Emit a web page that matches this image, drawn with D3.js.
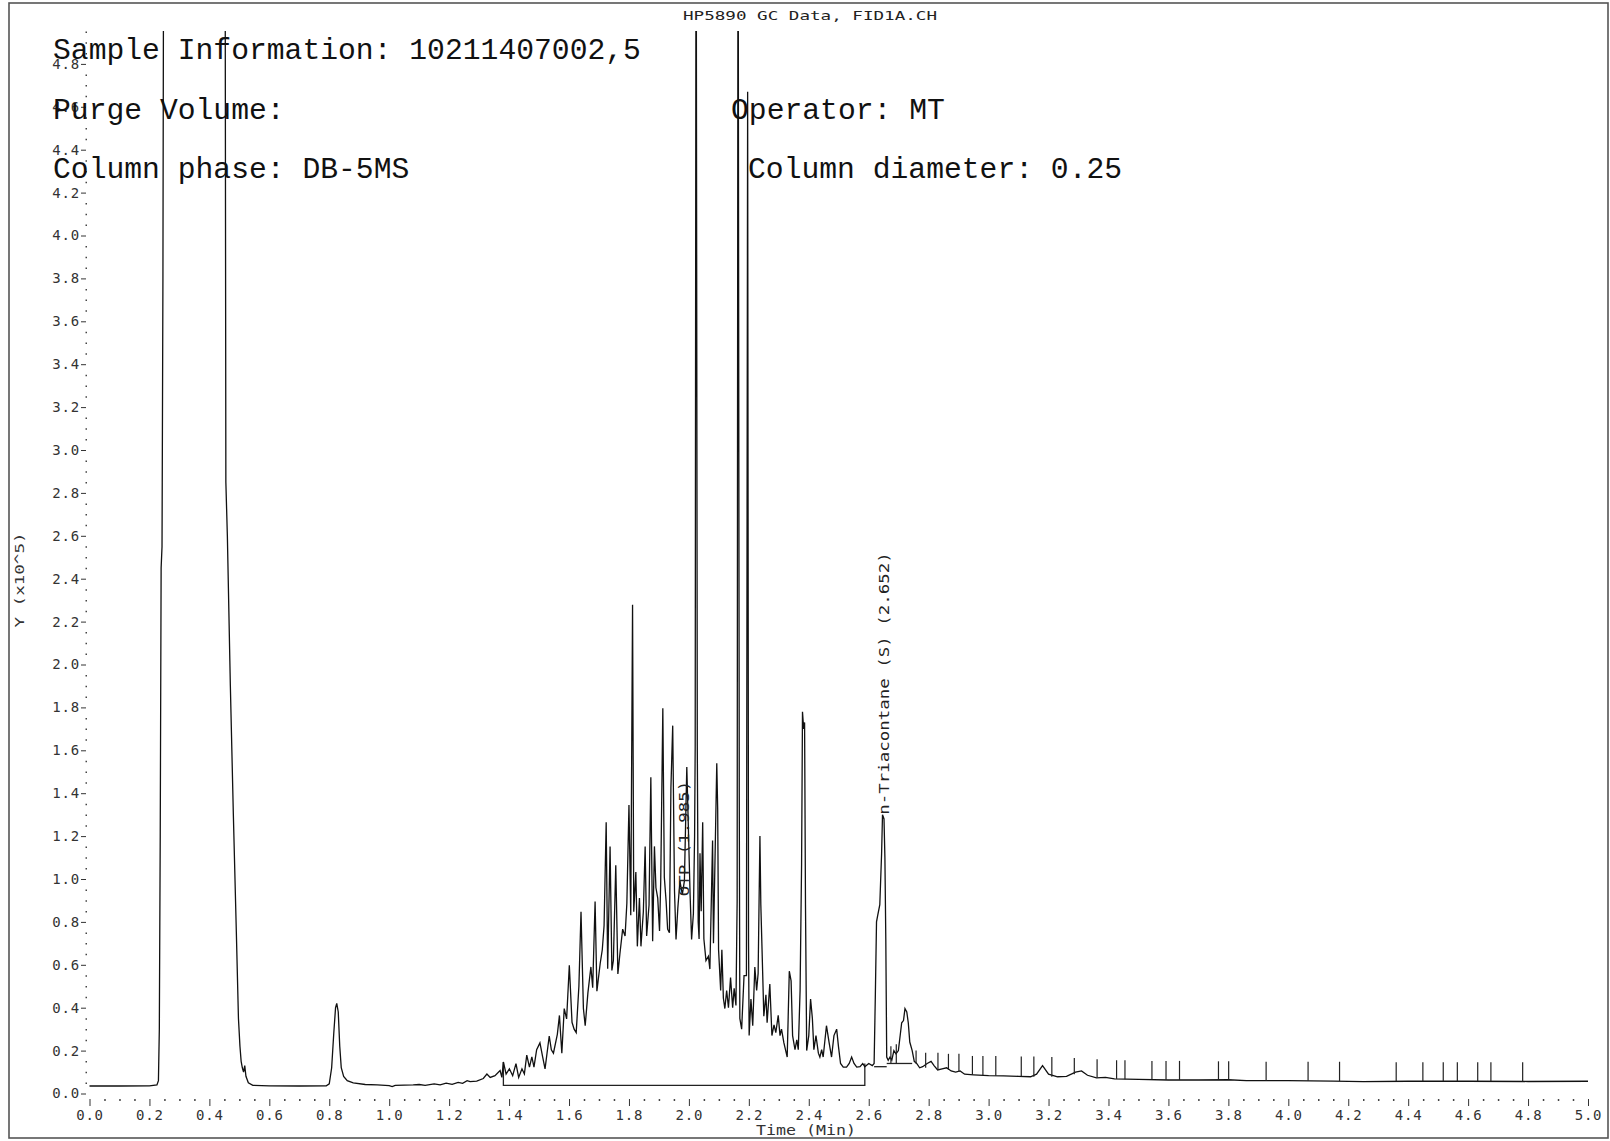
<!DOCTYPE html>
<html>
<head>
<meta charset="utf-8">
<script src="https://cdn.jsdelivr.net/npm/d3@7"></script>
<style>
  body { margin: 0; background: #fff; }
  svg { display: block; }
</style>
</head>
<body>
<svg id="chart"></svg>
<script>
// retention time (min) and detector response (x10^5)
const rtMin = [
  0.000, 0.100, 0.200, 0.225, 0.230, 0.233, 0.236, 0.239, 0.242, 0.245, 0.248, 0.300, 0.400, 0.452,
  0.455, 0.460, 0.470, 0.480, 0.490, 0.497, 0.502, 0.506, 0.510, 0.514, 0.518, 0.522, 0.530, 0.545,
  0.600, 0.700, 0.790, 0.800, 0.808, 0.815, 0.821, 0.825, 0.830, 0.835, 0.840, 0.848, 0.860, 0.880,
  0.920, 0.960, 1.000, 1.010, 1.020, 1.080, 1.100, 1.120, 1.150, 1.170, 1.190, 1.210, 1.230, 1.245,
  1.260, 1.270, 1.292, 1.314, 1.326, 1.337, 1.353, 1.370, 1.376, 1.381, 1.390, 1.401, 1.412, 1.423,
  1.432, 1.443, 1.451, 1.459, 1.468, 1.476, 1.483, 1.492, 1.503, 1.512, 1.520, 1.534, 1.541, 1.548,
  1.561, 1.568, 1.576, 1.584, 1.592, 1.601, 1.610, 1.617, 1.624, 1.633, 1.640, 1.648, 1.654, 1.663,
  1.673, 1.679, 1.687, 1.693, 1.704, 1.711, 1.717, 1.724, 1.729, 1.737, 1.743, 1.748, 1.756, 1.763,
  1.770, 1.779, 1.787, 1.793, 1.800, 1.806, 1.812, 1.816, 1.823, 1.828, 1.835, 1.840, 1.848, 1.854,
  1.859, 1.867, 1.873, 1.879, 1.885, 1.890, 1.896, 1.902, 1.906, 1.913, 1.918, 1.924, 1.929, 1.935,
  1.940, 1.946, 1.952, 1.957, 1.963, 1.970, 1.978, 1.985, 1.993, 2.004, 2.009, 2.015, 2.019, 2.021,
  2.024, 2.028, 2.031, 2.034, 2.037, 2.041, 2.046, 2.050, 2.057, 2.065, 2.070, 2.079, 2.082, 2.093,
  2.096, 2.099, 2.106, 2.110, 2.115, 2.120, 2.126, 2.132, 2.139, 2.146, 2.151, 2.157, 2.161, 2.164,
  2.168, 2.170, 2.176, 2.184, 2.192, 2.196, 2.199, 2.201, 2.207, 2.213, 2.220, 2.226, 2.231, 2.237,
  2.240, 2.246, 2.250, 2.257, 2.261, 2.270, 2.277, 2.284, 2.290, 2.298, 2.304, 2.309, 2.317, 2.328,
  2.335, 2.341, 2.346, 2.354, 2.360, 2.365, 2.371, 2.376, 2.379, 2.383, 2.386, 2.389, 2.393, 2.400,
  2.406, 2.412, 2.417, 2.424, 2.432, 2.437, 2.443, 2.448, 2.459, 2.468, 2.476, 2.484, 2.493, 2.499,
  2.506, 2.515, 2.526, 2.535, 2.543, 2.551, 2.560, 2.571, 2.580, 2.587, 2.600, 2.612, 2.618, 2.622,
  2.626, 2.630, 2.637, 2.643, 2.646, 2.651, 2.654, 2.657, 2.660, 2.665, 2.671, 2.677, 2.684, 2.691,
  2.699, 2.710, 2.716, 2.721, 2.727, 2.732, 2.737, 2.745, 2.752, 2.760, 2.770, 2.780, 2.795, 2.808,
  2.818, 2.830, 2.845, 2.860, 2.875, 2.890, 2.905, 2.920, 2.950, 3.000, 3.050, 3.100, 3.140, 3.160,
  3.180, 3.200, 3.230, 3.260, 3.290, 3.310, 3.330, 3.360, 3.390, 3.420, 3.500, 3.600, 3.700, 3.800,
  3.860, 4.000, 4.150, 4.250, 4.400, 4.600, 4.800, 5.000
];
const resp = [
  0.035, 0.035, 0.036, 0.040, 0.060, 0.300, 1.200, 2.450, 2.550, 3.800, 6.000, 6.000, 6.000, 6.000,
  2.850, 2.600, 1.900, 1.300, 0.750, 0.350, 0.220, 0.150, 0.120, 0.100, 0.130, 0.080, 0.050, 0.038,
  0.036, 0.035, 0.036, 0.045, 0.120, 0.280, 0.400, 0.420, 0.380, 0.220, 0.120, 0.080, 0.060, 0.050,
  0.042, 0.040, 0.037, 0.032, 0.038, 0.040, 0.042, 0.038, 0.045, 0.040, 0.048, 0.043, 0.052, 0.047,
  0.060, 0.055, 0.058, 0.070, 0.091, 0.075, 0.083, 0.107, 0.075, 0.147, 0.091, 0.115, 0.083, 0.139,
  0.075, 0.115, 0.091, 0.179, 0.123, 0.171, 0.123, 0.204, 0.236, 0.171, 0.115, 0.268, 0.204, 0.188,
  0.276, 0.364, 0.188, 0.396, 0.348, 0.598, 0.332, 0.300, 0.284, 0.501, 0.847, 0.396, 0.316, 0.469,
  0.590, 0.493, 0.895, 0.477, 0.606, 0.670, 0.783, 1.265, 0.582, 1.152, 0.574, 0.620, 1.064, 0.557,
  0.654, 0.766, 0.734, 0.887, 1.345, 0.831, 2.278, 0.847, 1.032, 0.686, 0.911, 0.686, 0.847, 1.152,
  0.734, 0.879, 1.474, 0.710, 1.152, 0.959, 0.911, 0.758, 0.991, 1.796, 1.008, 0.895, 0.766, 0.750,
  1.426, 1.715, 0.943, 0.718, 0.863, 0.991, 0.927, 0.991, 1.522, 0.927, 0.718, 0.839, 1.200, 1.619,
  6.000, 1.620, 0.800, 0.720, 1.120, 0.850, 1.265, 0.720, 0.620, 0.640, 0.580, 1.180, 0.700, 1.540,
  1.330, 0.670, 0.480, 0.670, 0.445, 0.396, 0.480, 0.400, 0.540, 0.400, 0.490, 0.410, 0.900, 6.000,
  1.400, 0.350, 0.300, 0.550, 0.550, 4.670, 0.700, 0.270, 0.440, 0.316, 0.590, 0.480, 0.560, 1.200,
  0.880, 0.570, 0.360, 0.460, 0.330, 0.510, 0.270, 0.320, 0.284, 0.364, 0.270, 0.300, 0.236, 0.170,
  0.570, 0.525, 0.270, 0.204, 0.250, 0.204, 0.480, 1.070, 1.780, 1.700, 1.730, 0.880, 0.200, 0.270,
  0.440, 0.350, 0.204, 0.270, 0.188, 0.170, 0.204, 0.170, 0.316, 0.236, 0.170, 0.270, 0.300, 0.220,
  0.140, 0.123, 0.123, 0.140, 0.170, 0.140, 0.123, 0.125, 0.140, 0.125, 0.140, 0.130, 0.140, 0.450,
  0.800, 0.830, 0.880, 1.120, 1.300, 1.280, 1.100, 0.720, 0.170, 0.155, 0.170, 0.155, 0.200, 0.185,
  0.200, 0.330, 0.340, 0.396, 0.380, 0.330, 0.240, 0.200, 0.150, 0.140, 0.120, 0.125, 0.140, 0.150,
  0.130, 0.110, 0.115, 0.120, 0.105, 0.100, 0.105, 0.090, 0.087, 0.083, 0.082, 0.080, 0.078, 0.090,
  0.130, 0.090, 0.078, 0.080, 0.100, 0.105, 0.085, 0.073, 0.075, 0.068, 0.066, 0.063, 0.063, 0.064,
  0.060, 0.060, 0.058, 0.055, 0.057, 0.057, 0.056, 0.057
];

// integration baselines drawn by the data system
const baseRt = [1.381, 1.381, 2.587, 2.587];
const baseVal = [0.147, 0.038, 0.038, 0.140];
const dropRt = [[2.618, 2.660], [2.660, 2.745]];
const dropVal = [0.125, 0.140];

// peak markers in the tail
const markerRt = [2.674, 2.692, 2.758, 2.790, 2.831, 2.866, 2.901, 2.946, 2.981, 3.024, 3.109, 3.151,
  3.211, 3.286, 3.362, 3.427, 3.455, 3.545, 3.592, 3.637, 3.767, 3.801, 3.926, 4.066, 4.171, 4.360,
  4.449, 4.517, 4.564, 4.632, 4.676, 4.782];
const markerLo = [0.140, 0.140, 0.140, 0.120, 0.110, 0.110, 0.100, 0.087, 0.085, 0.083, 0.080, 0.078,
  0.078, 0.090, 0.075, 0.068, 0.067, 0.066, 0.064, 0.063, 0.063, 0.064, 0.060, 0.060, 0.058, 0.057,
  0.057, 0.057, 0.057, 0.057, 0.057, 0.056];
const markerHi = [0.220, 0.230, 0.200, 0.190, 0.190, 0.185, 0.185, 0.175, 0.175, 0.175, 0.172, 0.172,
  0.170, 0.165, 0.160, 0.155, 0.155, 0.152, 0.152, 0.152, 0.150, 0.150, 0.148, 0.148, 0.148, 0.146,
  0.146, 0.146, 0.146, 0.146, 0.146, 0.146];

// peak annotations
const peakNames = ["OTP (1.985)", "n-Triacontane (S) (2.652)"];
const peakRt = [1.985, 2.652];
const peakLabelAt = [0.92, 1.30];

const xMajor = d3.range(0, 26).map(i => i * 0.2);
const yMajor = d3.range(0, 25).map(i => i * 0.2);

const headerLines = [
  ["Sample Information: 10211407002,5", ""],
  ["Purge Volume:", "Operator: MT"],
  ["Column phase: DB-5MS", "Column diameter: 0.25"]
];

const width = 1610, height = 1141;
const svg = d3.select("#chart").attr("width", width).attr("height", height);

svg.append("rect").attr("width", width).attr("height", height).attr("fill", "#fff");
svg.append("rect")
  .attr("x", 9).attr("y", 3).attr("width", 1599).attr("height", 1135)
  .attr("fill", "none").attr("stroke", "#555").attr("stroke-width", 1.6);

const x = d3.scaleLinear().domain([0, 5]).range([89.5, 1588]);
const y = d3.scaleLinear().domain([0, 5]).range([1093.5, 21]);

const tickFont = "'DejaVu Sans Mono', monospace";

// y axis: labelled majors with a dash, dotted minors
const yAxis = svg.append("g").attr("transform", "translate(86,0)")
  .call(d3.axisLeft(y).tickValues(yMajor).tickSize(5).tickPadding(1).tickFormat(d3.format(".1f")));
yAxis.select(".domain").remove();
yAxis.selectAll("line").attr("stroke", "#333").attr("stroke-width", 1);
yAxis.selectAll("text").attr("font-family", tickFont).attr("font-size", 14)
  .attr("letter-spacing", 0.8).attr("fill", "#333");

const yMinor = d3.range(1, 100).map(i => i * 0.05).filter(v => Math.abs(v * 5 - Math.round(v * 5)) > 1e-6);
const yAxisMinor = svg.append("g").attr("transform", "translate(87,0)")
  .call(d3.axisLeft(y).tickValues(yMinor).tickSize(1.5).tickFormat(""));
yAxisMinor.select(".domain").remove();
yAxisMinor.selectAll("line").attr("stroke", "#444").attr("stroke-width", 1.5);

// x axis: bars at majors, dots at minors
const xAxis = svg.append("g").attr("transform", "translate(0,1099)")
  .call(d3.axisBottom(x).tickValues(xMajor).tickSize(7).tickPadding(4).tickFormat(d3.format(".1f")));
xAxis.select(".domain").remove();
xAxis.selectAll("line").attr("stroke", "#333").attr("stroke-width", 1);
xAxis.selectAll("text").attr("font-family", tickFont).attr("font-size", 14)
  .attr("letter-spacing", 0.8).attr("fill", "#333");

const xMinor = d3.range(1, 100).map(i => i * 0.05).filter(v => Math.abs(v * 5 - Math.round(v * 5)) > 1e-6);
const xAxisMinor = svg.append("g").attr("transform", "translate(0,1099)")
  .call(d3.axisBottom(x).tickValues(xMinor).tickSize(2).tickFormat(""));
xAxisMinor.select(".domain").remove();
xAxisMinor.selectAll("line").attr("stroke", "#444").attr("stroke-width", 1.5);

svg.append("text")
  .attr("x", 806).attr("y", 1135).attr("text-anchor", "middle")
  .attr("font-family", tickFont).attr("font-size", 13.5).attr("fill", "#333")
  .attr("textLength", 100).attr("lengthAdjust", "spacingAndGlyphs")
  .text("Time (Min)");

svg.append("text")
  .attr("transform", "translate(24,580) rotate(-90)").attr("text-anchor", "middle")
  .attr("font-family", tickFont).attr("font-size", 13).attr("fill", "#333")
  .attr("textLength", 95).attr("lengthAdjust", "spacingAndGlyphs")
  .text("Y (x10^5)");

svg.append("text")
  .attr("x", 810).attr("y", 20).attr("text-anchor", "middle")
  .attr("font-family", tickFont).attr("font-size", 13).attr("fill", "#222")
  .attr("textLength", 254).attr("lengthAdjust", "spacingAndGlyphs")
  .text("HP5890 GC Data, FID1A.CH");

// trace, clipped at the top of the plotting area
svg.append("clipPath").attr("id", "plotclip")
  .append("rect").attr("x", 88).attr("y", 31).attr("width", 1502).attr("height", 1070);

const plot = svg.append("g").attr("clip-path", "url(#plotclip)");
const trace = rtMin.map((t, i) => [t, resp[i]]);
const line = d3.line().x(d => x(d[0])).y(d => y(d[1]));

plot.append("path")
  .attr("d", line(baseRt.map((t, i) => [t, baseVal[i]])))
  .attr("fill", "none").attr("stroke", "#222").attr("stroke-width", 1.3);

dropRt.forEach((r, i) => {
  plot.append("path")
    .attr("d", line([[r[0], dropVal[i]], [r[1], dropVal[i]]]))
    .attr("fill", "none").attr("stroke", "#222").attr("stroke-width", 1.3);
});

plot.append("path")
  .attr("d", line(trace))
  .attr("fill", "none").attr("stroke", "#111").attr("stroke-width", 1.3)
  .attr("stroke-linejoin", "miter");

plot.selectAll("line.marker")
  .data(markerRt)
  .join("line")
  .attr("class", "marker")
  .attr("x1", d => x(d)).attr("x2", d => x(d))
  .attr("y1", (d, i) => y(markerLo[i])).attr("y2", (d, i) => y(markerHi[i]))
  .attr("stroke", "#222").attr("stroke-width", 1.2);

// peak labels, rotated
peakNames.forEach((name, i) => {
  svg.append("text")
    .attr("transform", `translate(${x(peakRt[i]) + 5},${y(peakLabelAt[i])}) rotate(-90)`)
    .attr("font-family", tickFont).attr("font-size", 13.5).attr("fill", "#222")
    .attr("textLength", name.length * 10.5).attr("lengthAdjust", "spacingAndGlyphs")
    .text(name);
});

// header block in large monospace
const headFont = "'Courier New', 'Liberation Mono', monospace";
const headCols = [53, 731];
const headBase = [59, 119, 178];
headerLines.forEach((row, r) => {
  row.forEach((txt, c) => {
    if (!txt) return;
    svg.append("text")
      .attr("x", c === 1 && r === 2 ? 748 : headCols[c])
      .attr("y", headBase[r])
      .attr("font-family", headFont).attr("font-size", 29.7).attr("fill", "#111")
      .text(txt);
  });
});
</script>
</body>
</html>
